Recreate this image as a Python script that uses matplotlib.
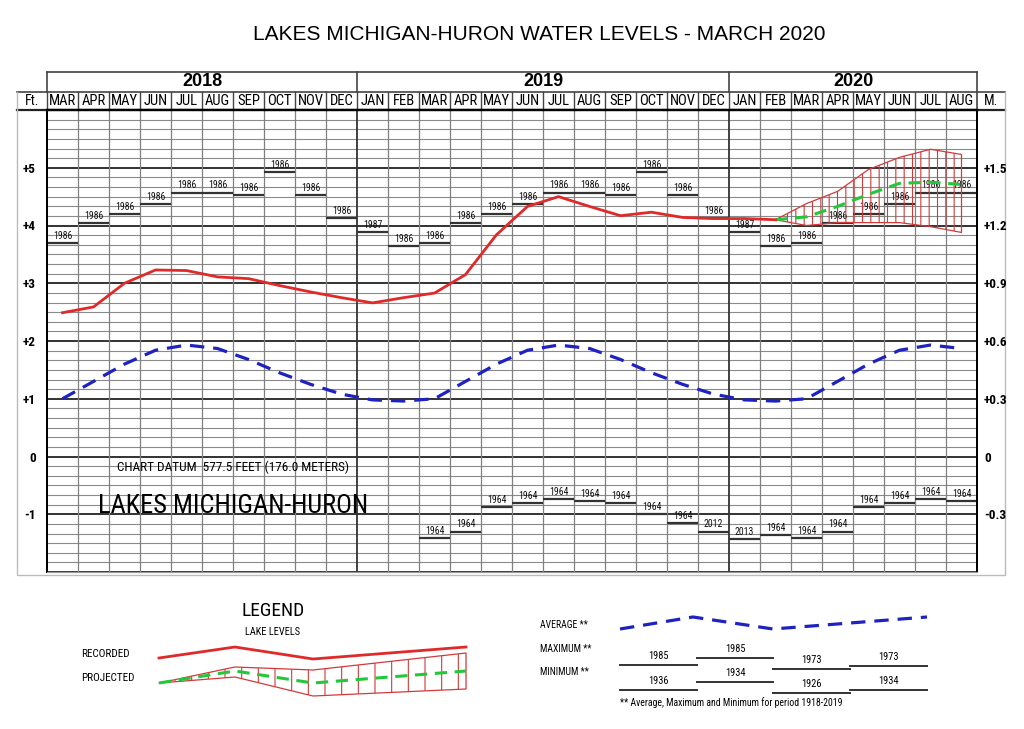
import numpy as np
import matplotlib.pyplot as plt

NARROW = ['Roboto Condensed', 'Archivo Narrow', 'Liberation Sans', 'DejaVu Sans']
REG = ['Liberation Sans', 'DejaVu Sans']
plt.rcParams['font.family'] = NARROW
plt.rcParams['hatch.linewidth'] = 0.8
plt.rcParams['hatch.color'] = '#d23a3a'

# columns: Mar 2018 .. Aug 2020
months = ['MAR', 'APR', 'MAY', 'JUN', 'JUL', 'AUG', 'SEP', 'OCT', 'NOV', 'DEC',
          'JAN', 'FEB', 'MAR', 'APR', 'MAY', 'JUN', 'JUL', 'AUG', 'SEP', 'OCT', 'NOV', 'DEC',
          'JAN', 'FEB', 'MAR', 'APR', 'MAY', 'JUN', 'JUL', 'AUG']
years = ['2018', '2019', '2020']
year_start = [0, 10, 22]
year_end = [10, 22, 30]

# recorded levels, ft above chart datum (Mar 2018 - Feb 2020)
recorded = [2.49, 2.59, 3.00, 3.23, 3.22, 3.11, 3.08, 2.96, 2.85, 2.75,
            2.66, 2.75, 2.83, 3.15, 3.84, 4.33, 4.50, 4.33, 4.17, 4.23, 4.14, 4.12,
            4.12, 4.10]
# projection Feb 2020 - Aug 2020
proj_col = [23, 24, 25, 26, 27, 28, 29]
proj_mid = [4.10, 4.15, 4.33, 4.54, 4.73, 4.75, 4.71]
proj_high = [4.10, 4.38, 4.59, 4.97, 5.18, 5.32, 5.23]
proj_low = [4.10, 4.00, 4.05, 4.05, 4.05, 3.98, 3.88]

# monthly statistics 1918-2019, Jan..Dec
avg_ft = [0.98, 0.96, 1.00, 1.30, 1.60, 1.84, 1.93, 1.87, 1.68, 1.45, 1.25, 1.08]
max_ft = [3.88, 3.65, 3.69, 4.04, 4.20, 4.37, 4.57, 4.57, 4.52, 4.92, 4.53, 4.13]
max_yr = ['1987', '1986', '1986', '1986', '1986', '1986', '1986', '1986', '1986', '1986', '1986', '1986']
min_ft = [-1.43, -1.36, -1.41, -1.30, -0.87, -0.80, -0.73, -0.77, -0.80, -0.99, -1.16, -1.30]
min_yr = ['2013', '1964', '1964', '1964', '1964', '1964', '1964', '1964', '1964', '1964', '1964', '2012']
min_first_col = 12

ft_ticks = [5, 4, 3, 2, 1, 0, -1]
ft_labels = ['+5', '+4', '+3', '+2', '+1', '0', '-1']
m_labels = ['+1.5', '+1.2', '+0.9', '+0.6', '+0.3', '0', '-0.3']

RED = '#e02a2a'
BLUE = '#1e22c0'
GREEN = '#22c83a'

fig = plt.figure(figsize=(10.24, 7.29), dpi=100)

# background layer in pixel coordinates (frames + legend)
bg = fig.add_axes([0, 0, 1, 1])
bg.set_xlim(0, 1024)
bg.set_ylim(729, 0)
bg.axis('off')

ax = fig.add_axes([47 / 1024, 1 - 572 / 729, 930 / 1024, 462 / 729])
ax.set_xlim(0, 30)
ax.set_ylim(-2, 6)

cal = [(i + 2) % 12 for i in range(len(months))]
xc = np.arange(len(months)) + 0.5

# grid: 2-inch lines, heavy every foot
for k in range(-12, 37):
    y = k / 6
    if k % 6 == 0:
        ax.axhline(y, color='#222222', lw=1.3, zorder=1)
    else:
        ax.axhline(y, color='#8a8a8a', lw=0.8, zorder=1)
for b in range(1, 30):
    if b in year_start:
        ax.axvline(b, color='#333333', lw=1.3, zorder=1)
    else:
        ax.axvline(b, color='#808080', lw=0.9, zorder=1)

# max / min step lines
for i in range(len(months)):
    m = cal[i]
    ax.hlines(max_ft[m], i, i + 1, color='#333333', lw=1.6, zorder=2)
    ax.annotate(max_yr[m], (i + 0.5, max_ft[m]), xytext=(0, 1.5), textcoords='offset points',
                ha='center', va='bottom', fontsize=7, color='#111111', zorder=3)
    if i >= min_first_col:
        ax.hlines(min_ft[m], i, i + 1, color='#333333', lw=1.6, zorder=2)
        ax.annotate(min_yr[m], (i + 0.5, min_ft[m]), xytext=(0, 1.5), textcoords='offset points',
                    ha='center', va='bottom', fontsize=7, color='#111111', zorder=3)

# average
ax.plot(xc, [avg_ft[m] for m in cal], color=BLUE, lw=2.3, dashes=(4.5, 2.8), zorder=4)

# projection envelope
px = np.array(proj_col) + 0.5
ax.fill_between(px, proj_low, proj_high, facecolor='none', edgecolor='#d23a3a',
                hatch='||', lw=0.9, zorder=3)
ax.plot(px, proj_mid, color=GREEN, lw=2.2, dashes=(4, 2.5), zorder=5)

# recorded
ax.plot(xc[:len(recorded)], recorded, color=RED, lw=2.0, zorder=6)

ax.text(6.0, -0.19, 'CHART DATUM  577.5 FEET (176.0 METERS)', ha='center', va='center',
        fontsize=9.5, zorder=7)
ax.text(6.0, -0.85, 'LAKES MICHIGAN-HURON', ha='center', va='center', fontsize=19, zorder=7)

# axes ticks
ax.set_xticks([])
ax.set_yticks(ft_ticks)
ax.set_yticklabels(ft_labels, fontsize=9.5, fontweight='bold')
ax.tick_params(axis='y', length=0, pad=8)
ax2 = ax.twinx()
ax2.set_ylim(-2, 6)
ax2.set_yticks(ft_ticks)
ax2.set_yticklabels(m_labels, fontsize=9.5, fontweight='bold')
ax2.tick_params(axis='y', length=0, pad=5)
ax2.set_xticks([])
for a in (ax, ax2):
    a.spines['top'].set_linewidth(1.6)
    a.spines['left'].set_linewidth(1.3)
    a.spines['right'].set_linewidth(1.3)
    a.spines['bottom'].set_color('#999999')

# header rows (x in data, y in axes fraction)
tr = ax.get_xaxis_transform()
y_mon_top = 1 + 18 / 462
y_year_top = 1 + 38 / 462
for i, lab in enumerate(months):
    ax.text(i + 0.5, 1 + 9 / 462, lab, transform=tr, ha='center', va='center',
            fontsize=10.5, clip_on=False)
    ax.plot([i, i], [1, y_mon_top], transform=tr, color='#444444', lw=1.0, clip_on=False)
for s, e, lab in zip(year_start, year_end, years):
    ax.text((s + e) / 2, 1 + 28 / 462, lab, transform=tr, ha='center', va='center',
            fontsize=13, fontweight='bold', family=REG, clip_on=False)
    ax.plot([s, s], [y_mon_top, y_year_top], transform=tr, color='#444444', lw=1.2, clip_on=False)
ax.plot([30, 30], [1, y_year_top], transform=tr, color='#444444', lw=1.2, clip_on=False)
ax.plot([0, 30], [y_year_top, y_year_top], transform=tr, color='#444444', lw=1.2, clip_on=False)

# side columns frame (pixels)
bg.plot([17, 1005], [92, 92], color='#444444', lw=1.2)
bg.plot([17, 1005], [110, 110], color='#222222', lw=1.6)
bg.plot([17, 17, 1005, 1005], [92, 575, 575, 92], color='#bbbbbb', lw=1.0)
bg.text(32, 101, 'Ft.', ha='center', va='center', fontsize=10)
bg.text(991, 101, 'M.', ha='center', va='center', fontsize=10)

fig.text(0.527, 0.952, 'LAKES MICHIGAN-HURON WATER LEVELS - MARCH 2020', ha='center',
         va='center', fontsize=15, family=REG)

# legend: lake levels
bg.text(273, 611, 'LEGEND', ha='center', va='center', fontsize=14)
bg.text(273, 632, 'LAKE LEVELS', ha='center', va='center', fontsize=7.5)
bg.text(81, 654, 'RECORDED', ha='left', va='center', fontsize=8)
bg.text(81, 678, 'PROJECTED', ha='left', va='center', fontsize=8)
leg_x = [159, 235, 313, 466]
leg_rec = [658, 647, 659, 647]
leg_mid = [683, 671, 683, 671]
leg_hi = [683, 667, 670, 653]
leg_lo = [683, 677, 696, 689]
bg.plot(leg_x, leg_rec, color=RED, lw=2.0)
bg.fill_between(leg_x, leg_lo, leg_hi, facecolor='none', edgecolor='#d23a3a', hatch='|', lw=0.9)
bg.plot(leg_x, leg_mid, color=GREEN, lw=2.2, dashes=(4, 2.5))

# legend: statistics
bg.text(540, 625, 'AVERAGE **', ha='left', va='center', fontsize=7)
bg.text(540, 649, 'MAXIMUM **', ha='left', va='center', fontsize=7)
bg.text(540, 672, 'MINIMUM **', ha='left', va='center', fontsize=7)
avg_x = [620, 693, 773, 927]
avg_y = [629, 617, 629, 617]
bg.plot(avg_x, avg_y, color=BLUE, lw=2.3, dashes=(4.5, 2.8))
seg_x0 = [620, 697, 773, 850]
seg_x1 = [697, 773, 850, 927]
seg_max = [665, 658, 669, 666]
seg_min = [690, 682, 693, 690]
seg_max_lab = ['1985', '1985', '1973', '1973']
seg_min_lab = ['1936', '1934', '1926', '1934']
for x0, x1, ym, yn, lm, ln in zip(seg_x0, seg_x1, seg_max, seg_min, seg_max_lab, seg_min_lab):
    bg.plot([x0, x1], [ym, ym], color='#333333', lw=1.4)
    bg.plot([x0, x1], [yn, yn], color='#333333', lw=1.4)
    bg.text((x0 + x1) / 2, ym - 4, lm, ha='center', va='bottom', fontsize=7.5)
    bg.text((x0 + x1) / 2, yn - 4, ln, ha='center', va='bottom', fontsize=7.5)
bg.text(620, 703, '** Average, Maximum and Minimum for period 1918-2019', ha='left',
        va='center', fontsize=7)

fig.savefig('out.png', dpi=100)
